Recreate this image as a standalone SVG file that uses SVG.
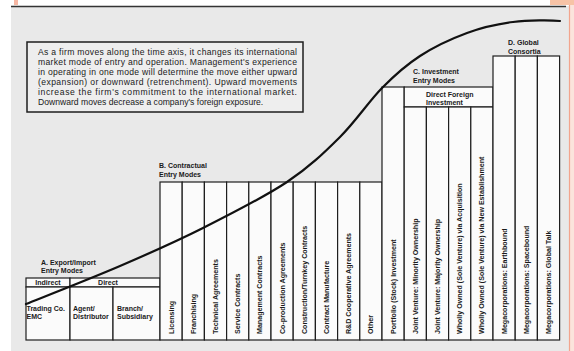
<svg xmlns="http://www.w3.org/2000/svg" width="574" height="351" viewBox="0 0 574 351">
<style>
.bx{fill:#fbfbfb;stroke:#1e1e1e;stroke-width:1.2}
.hd{font-family:"Liberation Sans",Arial,sans-serif;font-size:7px;font-weight:bold;fill:#1a1a1a}
.cl{font-family:"Liberation Sans",Arial,sans-serif;font-size:7.1px;font-weight:bold;fill:#1a1a1a}
.pt{font-family:"Liberation Sans",Arial,sans-serif;font-size:8.6px;fill:#1a1a1a}
.cv{fill:none;stroke:#111;stroke-width:2.2;stroke-linecap:round}
</style>
<rect x="0" y="0" width="574" height="351" fill="#ffffff"/>
<rect x="11" y="6" width="558" height="345" fill="#e9e9e9"/>
<rect x="569" y="0" width="5" height="351" fill="#fbe4dc"/>
<line x1="569.5" y1="0" x2="569.5" y2="351" stroke="#f2a58e" stroke-width="1.2"/>
<rect x="550" y="0" width="24" height="5" fill="#f7c3a6"/>
<rect x="14" y="0" width="4" height="5" fill="#f6b7a3"/>
<line x1="11" y1="6.5" x2="566" y2="6.5" stroke="#333" stroke-width="1.5"/>

<g id="note">
<rect x="27" y="42" width="276" height="70" fill="#eeeeee" stroke="#1e1e1e" stroke-width="1.5"/>
<text class="pt" x="38" y="54.5" textLength="259" lengthAdjust="spacing">As a firm moves along the time axis, it changes its international</text>
<text class="pt" x="38" y="64.5" textLength="259" lengthAdjust="spacing">market mode of entry and operation. Management's experience</text>
<text class="pt" x="38" y="74.5" textLength="259" lengthAdjust="spacing">in operating in one mode will determine the move either upward</text>
<text class="pt" x="38" y="84.5" textLength="259" lengthAdjust="spacing">(expansion) or downward (retrenchment). Upward movements</text>
<text class="pt" x="38" y="94.5" textLength="259" lengthAdjust="spacing">increase the firm's commitment to the international market.</text>
<text class="pt" x="38" y="104.5">Downward moves decrease a company's foreign exposure.</text>
</g>

<g id="groupA">
<text class="hd" x="41" y="265">A. Export/Import</text>
<text class="hd" x="41" y="272.5">Entry Modes</text>
<rect class="bx" x="26" y="278" width="44" height="9"/>
<rect class="bx" x="70" y="278" width="90" height="9"/>
<text class="hd" x="48" y="285.2" text-anchor="middle">Indirect</text>
<text class="hd" x="108" y="285.2" text-anchor="middle">Direct</text>
<g id="a-trading"><rect class="bx" x="26" y="287" width="44" height="53"/>
<text class="hd" x="26.5" y="311">Trading Co.</text><text class="hd" x="26.5" y="318.5">EMC</text></g>
<g id="a-agent"><rect class="bx" x="70" y="287" width="43" height="53"/>
<text class="hd" x="73" y="311">Agent/</text><text class="hd" x="73" y="318.5">Distributor</text></g>
<g id="a-branch"><rect class="bx" x="113" y="287" width="47" height="53"/>
<text class="hd" x="117" y="311">Branch/</text><text class="hd" x="117" y="318.5">Subsidiary</text></g>
</g>

<g id="groupB">
<text class="hd" x="159" y="167.5">B. Contractual</text>
<text class="hd" x="159" y="176.5">Entry Modes</text>
<g id="b1"><rect class="bx" x="160" y="182" width="22.2" height="158"/><text class="cl" transform="translate(173.6,334) rotate(-90)">Licensing</text></g>
<g id="b2"><rect class="bx" x="182.2" y="182" width="22.2" height="158"/><text class="cl" transform="translate(195.8,334) rotate(-90)">Franchising</text></g>
<g id="b3"><rect class="bx" x="204.4" y="182" width="22.2" height="158"/><text class="cl" transform="translate(218,334) rotate(-90)">Technical Agreements</text></g>
<g id="b4"><rect class="bx" x="226.6" y="182" width="22.2" height="158"/><text class="cl" transform="translate(240.2,334) rotate(-90)">Service Contracts</text></g>
<g id="b5"><rect class="bx" x="248.8" y="182" width="22.2" height="158"/><text class="cl" transform="translate(262.4,334) rotate(-90)">Management Contracts</text></g>
<g id="b6"><rect class="bx" x="271" y="182" width="22.2" height="158"/><text class="cl" transform="translate(284.6,334) rotate(-90)">Co-production Agreements</text></g>
<g id="b7"><rect class="bx" x="293.2" y="182" width="22.2" height="158"/><text class="cl" transform="translate(306.8,334) rotate(-90)">Construction/Turnkey Contracts</text></g>
<g id="b8"><rect class="bx" x="315.4" y="182" width="22.2" height="158"/><text class="cl" transform="translate(329,334) rotate(-90)">Contract Manufacture</text></g>
<g id="b9"><rect class="bx" x="337.6" y="182" width="22.2" height="158"/><text class="cl" transform="translate(351.2,334) rotate(-90)">R&amp;D Cooperative Agreements</text></g>
<g id="b10"><rect class="bx" x="359.8" y="182" width="22.2" height="158"/><text class="cl" transform="translate(373.4,334) rotate(-90)">Other</text></g>
</g>

<g id="groupC">
<text class="hd" x="413" y="74">C. Investment</text>
<text class="hd" x="413" y="82.5">Entry Modes</text>
<g id="c1"><rect class="bx" x="382" y="87" width="22.2" height="253"/><text class="cl" transform="translate(395.6,334) rotate(-90)">Portfolio (Stock) Investment</text></g>
<rect class="bx" x="404.2" y="87" width="88.8" height="20"/>
<text class="hd" x="426" y="97">Direct Foreign</text>
<text class="hd" x="426" y="104.5">Investment</text>
<g id="c2"><rect class="bx" x="404.2" y="107" width="22.2" height="233"/><text class="cl" transform="translate(417.8,334) rotate(-90)">Joint Venture: Minority Ownership</text></g>
<g id="c3"><rect class="bx" x="426.4" y="107" width="22.2" height="233"/><text class="cl" transform="translate(440,334) rotate(-90)">Joint Venture: Majority Ownership</text></g>
<g id="c4"><rect class="bx" x="448.6" y="107" width="22.2" height="233"/><text class="cl" transform="translate(462.2,334) rotate(-90)">Wholly Owned (Sole Venture) via Acquisition</text></g>
<g id="c5"><rect class="bx" x="470.8" y="107" width="22.2" height="233"/><text class="cl" transform="translate(484.4,334) rotate(-90)">Wholly Owned (Sole Venture) via New Establishment</text></g>
</g>

<g id="groupD">
<text class="hd" x="508" y="45">D. Global</text>
<text class="hd" x="508" y="53.5">Consortia</text>
<g id="d1"><rect class="bx" x="493" y="56" width="22.2" height="284"/><text class="cl" transform="translate(506.6,334) rotate(-90)">Megacorporations: Earthbound</text></g>
<g id="d2"><rect class="bx" x="515.2" y="56" width="22.2" height="284"/><text class="cl" transform="translate(528.8,334) rotate(-90)">Megacorporations: Spacebound</text></g>
<g id="d3"><rect class="bx" x="537.4" y="56" width="22.2" height="284"/><text class="cl" transform="translate(551,334) rotate(-90)">Megacorporations: Global Talk</text></g>
</g>

<g id="connectors">
<path class="cv" d="M26,304 C41.7,297.7 90.5,278.7 120,266 C149.5,253.3 175.2,242 203,228 C230.8,214 264.2,197.2 287,182 C309.8,166.8 324.2,152.7 340,137 C355.8,121.3 368.7,101.5 382,88 C395.3,74.5 405.8,65.2 420,56 C434.2,46.8 451.5,38.7 467,33 C482.5,27.3 497.5,24 513,22 C528.5,20 552.2,20.2 560,21"/>
</g>
</svg>
